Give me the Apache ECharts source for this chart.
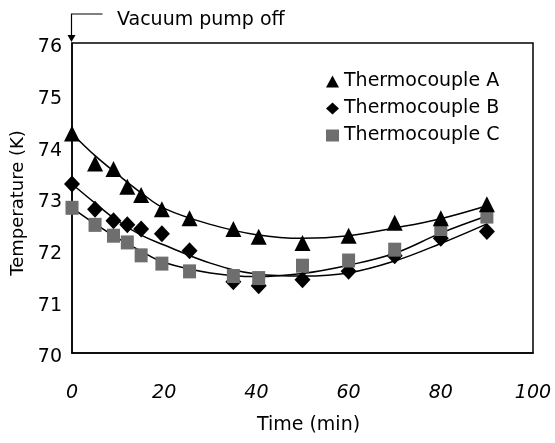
<!DOCTYPE html>
<html><head><meta charset="utf-8">
<script src="https://cdn.jsdelivr.net/npm/echarts@6/dist/echarts.min.js"></script>
<style>html,body{margin:0;padding:0;background:#fff}#c{width:555px;height:443px}</style>
</head><body><div id="c"></div>
<script>
// Measured points
const timePts = [0, 5, 9, 12, 15, 19.5, 25.5, 35, 40.5, 50, 60, 70, 80, 90];
const tcA = [74.25, 73.67, 73.56, 73.22, 73.06, 72.78, 72.61, 72.40, 72.25, 72.13, 72.27, 72.52, 72.61, 72.88];
const tcB = [73.27, 72.78, 72.56, 72.48, 72.40, 72.31, 71.98, 71.38, 71.30, 71.42, 71.58, 71.88, 72.22, 72.35];
const tcC = [72.81, 72.48, 72.27, 72.14, 71.89, 71.73, 71.58, 71.49, 71.45, 71.69, 71.79, 72.00, 72.40, 72.64];
// Trend curves
const timeCurve = [0, 5, 10, 15, 20, 30, 40, 50, 60, 70, 80, 90];
const curveA = [74.25, 73.82, 73.45, 73.10, 72.80, 72.49, 72.29, 72.22, 72.27, 72.42, 72.60, 72.85];
const curveB = [73.27, 72.90, 72.55, 72.28, 72.09, 71.74, 71.53, 71.49, 71.55, 71.78, 72.12, 72.50];
const curveC = [72.81, 72.50, 72.22, 71.97, 71.75, 71.55, 71.48, 71.54, 71.70, 71.93, 72.32, 72.65];
const xTicks = [0, 20, 40, 60, 80, 100];
const yTicks = [70, 71, 72, 73, 74, 75, 76];
const seriesNames = ['Thermocouple A', 'Thermocouple B', 'Thermocouple C'];
const annotation = 'Vacuum pump off';

const FONT = 'DejaVu Sans';
const pair = (xs, ys) => xs.map((x, i) => [x, ys[i]]);
const chart = echarts.init(document.getElementById('c'));
const lineStyle = {color: '#000', width: 1.5};
chart.setOption({
  animation: false,
  backgroundColor: '#fff',
  grid: {left: 72, right: 22, top: 43, bottom: 90, show: true, borderColor: '#000', borderWidth: 1.5, backgroundColor: 'transparent'},
  xAxis: {
    type: 'value', min: xTicks[0], max: xTicks[xTicks.length - 1], interval: 20,
    name: 'Time (min)', nameLocation: 'middle', nameGap: 63,
    nameTextStyle: {fontFamily: FONT, fontSize: 19, color: '#000', padding: [0, 0, 0, 12]},
    axisLine: {lineStyle: {color: '#000', width: 1.5}}, axisTick: {show: false}, splitLine: {show: false},
    axisLabel: {fontFamily: FONT, fontSize: 19, color: '#000', fontStyle: 'italic', margin: 31}
  },
  yAxis: {
    type: 'value', min: yTicks[0], max: yTicks[yTicks.length - 1], interval: 1,
    name: 'Temperature (K)', nameLocation: 'middle', nameGap: 41,
    nameTextStyle: {fontFamily: FONT, fontSize: 18, color: '#000', padding: [0, 10, 0, 0]},
    axisLine: {lineStyle: {color: '#000', width: 1.5}}, axisTick: {show: false}, splitLine: {show: false},
    axisLabel: {fontFamily: FONT, fontSize: 19, color: '#000', margin: 10, verticalAlign: 'top', lineHeight: 9}
  },
  legend: {
    orient: 'vertical', left: 321, top: 67, itemWidth: 13, itemHeight: 12, itemGap: 8,
    textStyle: {fontFamily: FONT, fontSize: 19, color: '#000', lineHeight: 19},
    data: [
      {name: seriesNames[0], icon: 'triangle'},
      {name: seriesNames[1], icon: 'diamond'},
      {name: seriesNames[2], icon: 'rect', itemStyle: {color: '#6e6e6e'}}
    ]
  },
  series: [
    {type: 'line', data: pair(timeCurve, curveA), smooth: 0.4, symbol: 'none', lineStyle, silent: true, z: 1},
    {type: 'line', data: pair(timeCurve, curveB), smooth: 0.4, symbol: 'none', lineStyle, silent: true, z: 1},
    {type: 'line', data: pair(timeCurve, curveC), smooth: 0.4, symbol: 'none', lineStyle, silent: true, z: 1},
    {name: seriesNames[1], type: 'scatter', data: pair(timePts, tcB), symbol: 'diamond', symbolSize: [16, 17], itemStyle: {color: '#000', opacity: 1}, z: 3},
    {name: seriesNames[2], type: 'scatter', data: pair(timePts, tcC), symbol: 'rect', symbolSize: [13, 14], itemStyle: {color: '#6e6e6e', opacity: 1}, z: 4},
    {name: seriesNames[0], type: 'scatter', data: pair(timePts, tcA), symbol: 'triangle', symbolSize: [16, 16], itemStyle: {color: '#000', opacity: 1}, z: 5}
  ]
});
// Annotation arrow at t = 0 pointing to top of plot
const p0 = chart.convertToPixel({gridIndex: 0}, [0, yTicks[yTicks.length - 1]]);
const x0 = Math.round(p0[0]) - 0.5, yTop = p0[1];
chart.setOption({
  graphic: [
    {type: 'polyline', shape: {points: [[x0 + 31, 14], [x0, 14], [x0, yTop - 6]]}, style: {stroke: '#000', lineWidth: 1.2, fill: null}},
    {type: 'polygon', shape: {points: [[x0 - 4, yTop - 8], [x0 + 4, yTop - 8], [x0, yTop - 1]]}, style: {fill: '#000'}},
    {type: 'text', left: 117, top: 11, style: {text: annotation, font: '19px "DejaVu Sans"', fill: '#000'}}
  ]
});
</script></body></html>
